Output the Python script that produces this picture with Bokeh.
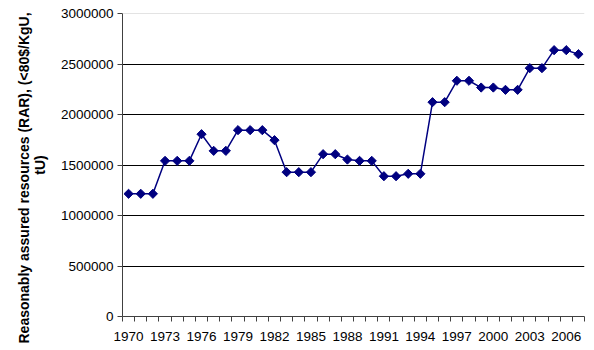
import math
from bokeh.plotting import figure
from bokeh.models import FixedTicker, BasicTickFormatter, Span, Title
from bokeh.embed import file_html
from bokeh.resources import INLINE

years = list(range(1970, 2008))
rar = [1215000, 1215000, 1215000, 1541000, 1541000, 1541000, 1805000, 1640000,
       1640000, 1845000, 1845000, 1845000, 1746000, 1429000, 1429000, 1429000,
       1607000, 1607000, 1554000, 1541000, 1541000, 1389000, 1389000, 1413000,
       1413000, 2122000, 2122000, 2334000, 2334000, 2267000, 2267000, 2244000,
       2244000, 2459000, 2459000, 2637000, 2637000, 2597000]
label_years = [1970, 1973, 1976, 1979, 1982, 1985, 1988, 1991, 1994, 1997, 2000, 2003, 2006]
y_ticks = [0, 500000, 1000000, 1500000, 2000000, 2500000, 3000000]
y_title_lines = ["Reasonably assured resources (RAR), (<80$/KgU,", "tU)"]

FONT = "Liberation Sans"

p = figure(width=594, height=350, output_backend="svg", toolbar_location=None,
           x_range=(1969.5, 2007.5), y_range=(0, 3000000),
           min_border_left=122, min_border_right=10, min_border_top=13, min_border_bottom=34)
p.outline_line_color = None
p.background_fill_color = "white"

# grid
p.xgrid.visible = False
p.ygrid.ticker = FixedTicker(ticks=y_ticks[:-1])
p.ygrid.grid_line_color = "black"
p.ygrid.grid_line_width = 1
p.add_layout(Span(location=y_ticks[-1], dimension="width", line_color="#c8c8c8", line_width=1))

# x axis
p.xaxis.ticker = FixedTicker(ticks=label_years,
                             minor_ticks=[y - 0.5 for y in years] + [years[-1] + 0.5])
p.xaxis.major_tick_out = 0
p.xaxis.major_tick_in = 0
p.xaxis.minor_tick_out = 5
p.xaxis.minor_tick_in = 0
p.xaxis.minor_tick_line_color = "#404040"
p.xaxis.axis_line_color = "#404040"
p.xaxis.major_label_text_font = FONT
p.xaxis.major_label_text_font_size = "13.5px"
p.xaxis.major_label_text_color = "black"
p.xaxis.major_label_standoff = 10

# y axis
p.yaxis.ticker = FixedTicker(ticks=y_ticks)
p.yaxis.formatter = BasicTickFormatter(use_scientific=False)
p.yaxis.major_tick_out = 5
p.yaxis.major_tick_in = 0
p.yaxis.minor_tick_out = 0
p.yaxis.minor_tick_in = 0
p.yaxis.axis_line_color = "#404040"
p.yaxis.major_tick_line_color = "#404040"
p.yaxis.major_label_text_font = FONT
p.yaxis.major_label_text_font_size = "13.5px"
p.yaxis.major_label_text_color = "black"
p.yaxis.major_label_standoff = 4

# second line of the y title as the axis label
p.yaxis.axis_label = y_title_lines[1]
p.yaxis.axis_label_text_font = FONT
p.yaxis.axis_label_text_font_style = "bold"
p.yaxis.axis_label_text_font_size = "14px"
p.yaxis.axis_label_text_color = "black"
p.yaxis.axis_label_standoff = 10

# first line of the y title as a side title
p.add_layout(Title(text=y_title_lines[0], align="left", offset=-27, standoff=-6,
                   text_font=FONT, text_font_style="bold", text_font_size="14px",
                   text_color="black"), "left")

p.line(years, rar, line_color="#000080", line_width=1.5)
p.scatter(years, rar, marker="square", angle=math.pi / 4, size=6.5,
          fill_color="#000080", line_color="#000080")

open("out.html", "w").write(file_html(p, INLINE))
